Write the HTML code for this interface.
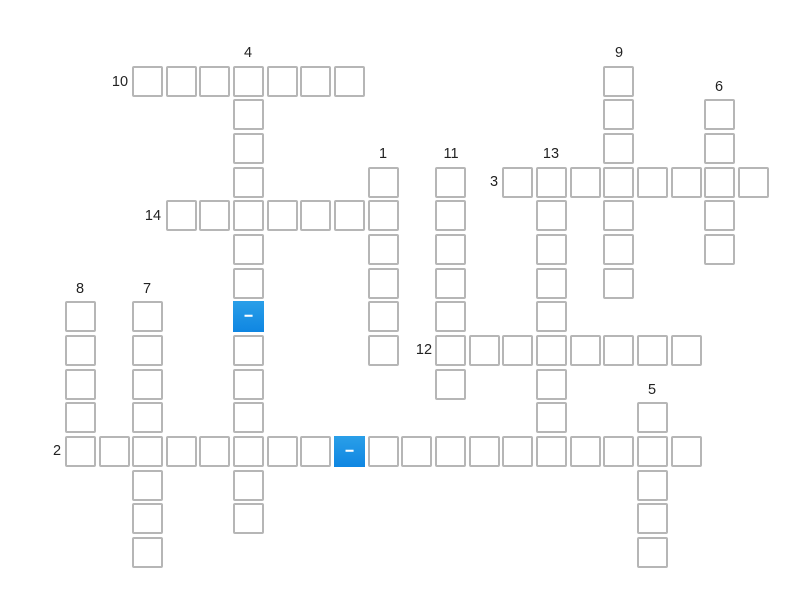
<!DOCTYPE html>
<html><head><meta charset="utf-8"><style>
html,body{margin:0;padding:0;background:#fff;width:800px;height:600px;overflow:hidden}
svg{display:block}
.c rect{width:29px;height:29px;fill:#fff;stroke:#b6b6b6;stroke-width:2px;rx:1px}
.l text{font-family:"Liberation Sans",sans-serif;font-size:14.5px;fill:#222;text-anchor:middle}
.d text{font-family:"Liberation Sans",sans-serif;font-size:15px;font-weight:bold;fill:#fff;stroke:#fff;stroke-width:.6px;text-anchor:middle}
</style></head><body>
<svg width="800" height="600" viewBox="0 0 800 600" xmlns="http://www.w3.org/2000/svg">
<defs><linearGradient id="b" x1="0" y1="0" x2="0" y2="1"><stop offset="0" stop-color="#2a9fe8"/><stop offset="1" stop-color="#0f86e2"/></linearGradient></defs>
<g class="c">
<rect x="133" y="67"/><rect x="167" y="67"/><rect x="200" y="67"/><rect x="234" y="67"/><rect x="268" y="67"/><rect x="301" y="67"/><rect x="335" y="67"/><rect x="604" y="67"/>
<rect x="234" y="100"/><rect x="604" y="100"/><rect x="705" y="100"/>
<rect x="234" y="134"/><rect x="604" y="134"/><rect x="705" y="134"/>
<rect x="234" y="168"/><rect x="369" y="168"/><rect x="436" y="168"/><rect x="503" y="168"/><rect x="537" y="168"/><rect x="571" y="168"/><rect x="604" y="168"/><rect x="638" y="168"/><rect x="672" y="168"/><rect x="705" y="168"/><rect x="739" y="168"/>
<rect x="167" y="201"/><rect x="200" y="201"/><rect x="234" y="201"/><rect x="268" y="201"/><rect x="301" y="201"/><rect x="335" y="201"/><rect x="369" y="201"/><rect x="436" y="201"/><rect x="537" y="201"/><rect x="604" y="201"/><rect x="705" y="201"/>
<rect x="234" y="235"/><rect x="369" y="235"/><rect x="436" y="235"/><rect x="537" y="235"/><rect x="604" y="235"/><rect x="705" y="235"/>
<rect x="234" y="269"/><rect x="369" y="269"/><rect x="436" y="269"/><rect x="537" y="269"/><rect x="604" y="269"/>
<rect x="66" y="302"/><rect x="133" y="302"/><rect x="369" y="302"/><rect x="436" y="302"/><rect x="537" y="302"/>
<rect x="66" y="336"/><rect x="133" y="336"/><rect x="234" y="336"/><rect x="369" y="336"/><rect x="436" y="336"/><rect x="470" y="336"/><rect x="503" y="336"/><rect x="537" y="336"/><rect x="571" y="336"/><rect x="604" y="336"/><rect x="638" y="336"/><rect x="672" y="336"/>
<rect x="66" y="370"/><rect x="133" y="370"/><rect x="234" y="370"/><rect x="436" y="370"/><rect x="537" y="370"/>
<rect x="66" y="403"/><rect x="133" y="403"/><rect x="234" y="403"/><rect x="537" y="403"/><rect x="638" y="403"/>
<rect x="66" y="437"/><rect x="100" y="437"/><rect x="133" y="437"/><rect x="167" y="437"/><rect x="200" y="437"/><rect x="234" y="437"/><rect x="268" y="437"/><rect x="301" y="437"/><rect x="369" y="437"/><rect x="402" y="437"/><rect x="436" y="437"/><rect x="470" y="437"/><rect x="503" y="437"/><rect x="537" y="437"/><rect x="571" y="437"/><rect x="604" y="437"/><rect x="638" y="437"/><rect x="672" y="437"/>
<rect x="133" y="471"/><rect x="234" y="471"/><rect x="638" y="471"/>
<rect x="133" y="504"/><rect x="234" y="504"/><rect x="638" y="504"/>
<rect x="133" y="538"/><rect x="638" y="538"/>
</g>
<rect x="233" y="301" width="31" height="31" fill="url(#b)"/>
<rect x="334" y="436" width="31" height="31" fill="url(#b)"/>
<g class="d"><text x="248.5" y="320">–</text><text x="349.5" y="455">–</text></g>
<g class="l">
<text x="120" y="86">10</text><text x="153" y="220">14</text><text x="494" y="186">3</text><text x="424" y="354">12</text><text x="57" y="455">2</text>
<text x="248" y="57">4</text><text x="619" y="57">9</text><text x="719" y="91">6</text><text x="383" y="158">1</text><text x="451" y="158">11</text><text x="551" y="158">13</text><text x="80" y="293">8</text><text x="147" y="293">7</text><text x="652" y="394">5</text>
</g>
</svg>
</body></html>
